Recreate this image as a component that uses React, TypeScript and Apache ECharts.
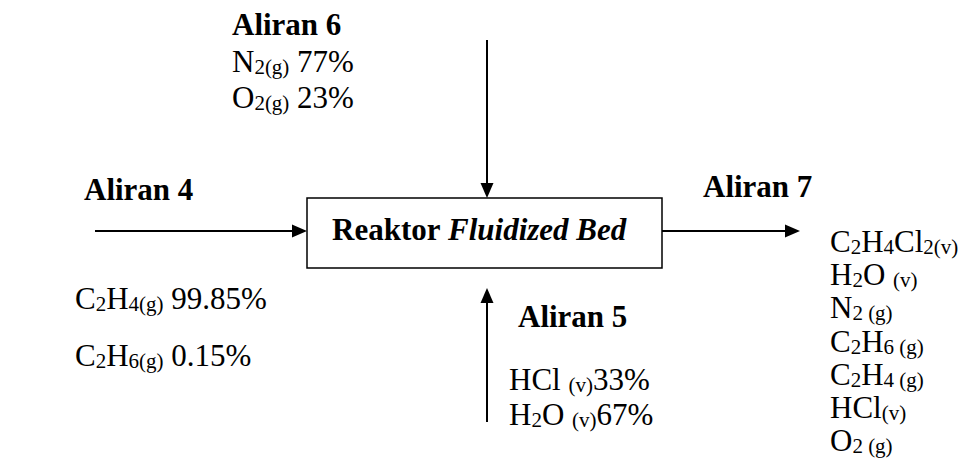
import React, { useEffect, useRef } from "react";
import * as echarts from "echarts";

// ---- Stream data (species use _{...} for subscripts) ----
const stream6Title = "Aliran 6";
const stream6Species = ["N_{2(g)}", "O_{2(g)}"];
const stream6Fractions = [77, 23];

const stream4Title = "Aliran 4";
const stream4Species = ["C_{2}H_{4(g)}", "C_{2}H_{6(g)}"];
const stream4Fractions = [99.85, 0.15];

const stream5Title = "Aliran 5";
const stream5Species = ["HCl _{(v)}", "H_{2}O _{(v)}"];
const stream5Fractions = [33, 67];

const stream7Title = "Aliran 7";
const stream7Species = [
  "C_{2}H_{4}Cl_{2(v)}",
  "H_{2}O _{(v)}",
  "N_{2 (g)}",
  "C_{2}H_{6 (g)}",
  "C_{2}H_{4 (g)}",
  "HCl_{(v)}",
  "O_{2 (g)}",
];

const reactorName = ["Reaktor", "Fluidized Bed"];

// ---- Style constants ----
const FONT = "Liberation Serif, Times New Roman, serif";
const MAIN = 31;
const SUB = 21;
const LH = 32;
const SUBLH = LH - 12.8;
const BASE_OFF = LH / 2 + 10.5; // distance from line top to baseline

const rich = {
  m: { fontFamily: FONT, fontSize: MAIN, lineHeight: LH, fill: "#000" },
  s: { fontFamily: FONT, fontSize: SUB, lineHeight: SUBLH, verticalAlign: "bottom", fill: "#000" },
  b: { fontFamily: FONT, fontSize: MAIN, fontWeight: "bold", lineHeight: LH, fill: "#000" },
  bi: { fontFamily: FONT, fontSize: MAIN, fontWeight: "bold", fontStyle: "italic", lineHeight: LH, fill: "#000" },
};

function toRich(s: string): string {
  const out: string[] = [];
  const re = /_\{([^}]*)\}/g;
  let last = 0;
  let m: RegExpExecArray | null;
  while ((m = re.exec(s)) !== null) {
    if (m.index > last) out.push(`{m|${s.slice(last, m.index)}}`);
    out.push(`{s|${m[1]}}`);
    last = m.index + m[0].length;
  }
  if (last < s.length) out.push(`{m|${s.slice(last)}}`);
  return out.join("");
}

function textEl(x: number, baseline: number, text: string, align = "left") {
  return {
    type: "text",
    x,
    y: baseline - BASE_OFF,
    silent: true,
    style: {
      text,
      rich,
      fill: "#000",
      fontFamily: FONT,
      fontSize: MAIN,
      align,
      textAlign: align,
      verticalAlign: "top",
      textVerticalAlign: "top",
    },
  };
}

function arrow(x1: number, y1: number, x2: number, y2: number) {
  const len = 15;
  const half = 6.5;
  const dx = x2 - x1;
  const dy = y2 - y1;
  const d = Math.sqrt(dx * dx + dy * dy);
  const ux = dx / d;
  const uy = dy / d;
  const bx = x2 - ux * len;
  const by = y2 - uy * len;
  return [
    {
      type: "line",
      silent: true,
      shape: { x1, y1, x2: bx, y2: by },
      style: { stroke: "#000", lineWidth: 2 },
    },
    {
      type: "polygon",
      silent: true,
      shape: {
        points: [
          [x2, y2],
          [bx - uy * half, by + ux * half],
          [bx + uy * half, by - ux * half],
        ],
      },
      style: { fill: "#000" },
    },
  ];
}

export default function App() {
  const ref = useRef<HTMLDivElement>(null);

  useEffect(() => {
    if (!ref.current) return;
    const chart = echarts.init(ref.current, null, { renderer: "svg" });

    const elements: any[] = [];

    // Reactor box
    elements.push({
      type: "rect",
      silent: true,
      shape: { x: 307, y: 198, width: 355, height: 70 },
      style: { fill: "#fff", stroke: "#000", lineWidth: 1.5 },
    });
    elements.push(
      textEl(479, 240, `{b|${reactorName[0]} }{bi|${reactorName[1]}}`, "center")
    );

    // Arrows
    elements.push(...arrow(487, 40, 487, 198)); // stream 6 down
    elements.push(...arrow(487, 422, 487, 288)); // stream 5 up
    elements.push(...arrow(95, 231, 307, 231)); // stream 4 right
    elements.push(...arrow(662, 231, 800, 231)); // stream 7 right

    // Stream 6
    elements.push(textEl(232, 35, `{b|${stream6Title}}`));
    stream6Species.forEach((sp, i) => {
      elements.push(textEl(232, 72 + i * 36, toRich(`${sp} ${stream6Fractions[i]}%`)));
    });

    // Stream 4
    elements.push(textEl(84, 200, `{b|${stream4Title}}`));
    stream4Species.forEach((sp, i) => {
      elements.push(textEl(75, 309 + i * 57, toRich(`${sp} ${stream4Fractions[i]}%`)));
    });

    // Stream 5
    elements.push(textEl(518, 327, `{b|${stream5Title}}`));
    stream5Species.forEach((sp, i) => {
      elements.push(textEl(509, 390 + i * 35, toRich(`${sp}${stream5Fractions[i]}%`)));
    });

    // Stream 7
    elements.push(textEl(703, 197, `{b|${stream7Title}}`));
    stream7Species.forEach((sp, i) => {
      elements.push(textEl(830, 252 + i * 33.2, toRich(sp)));
    });

    chart.setOption({
      animation: false,
      backgroundColor: "#fff",
      graphic: { elements },
    });

    return () => chart.dispose();
  }, []);

  return (
    <div
      ref={ref}
      style={{ position: "absolute", left: 0, top: 0, width: 963, height: 471 }}
    />
  );
}
